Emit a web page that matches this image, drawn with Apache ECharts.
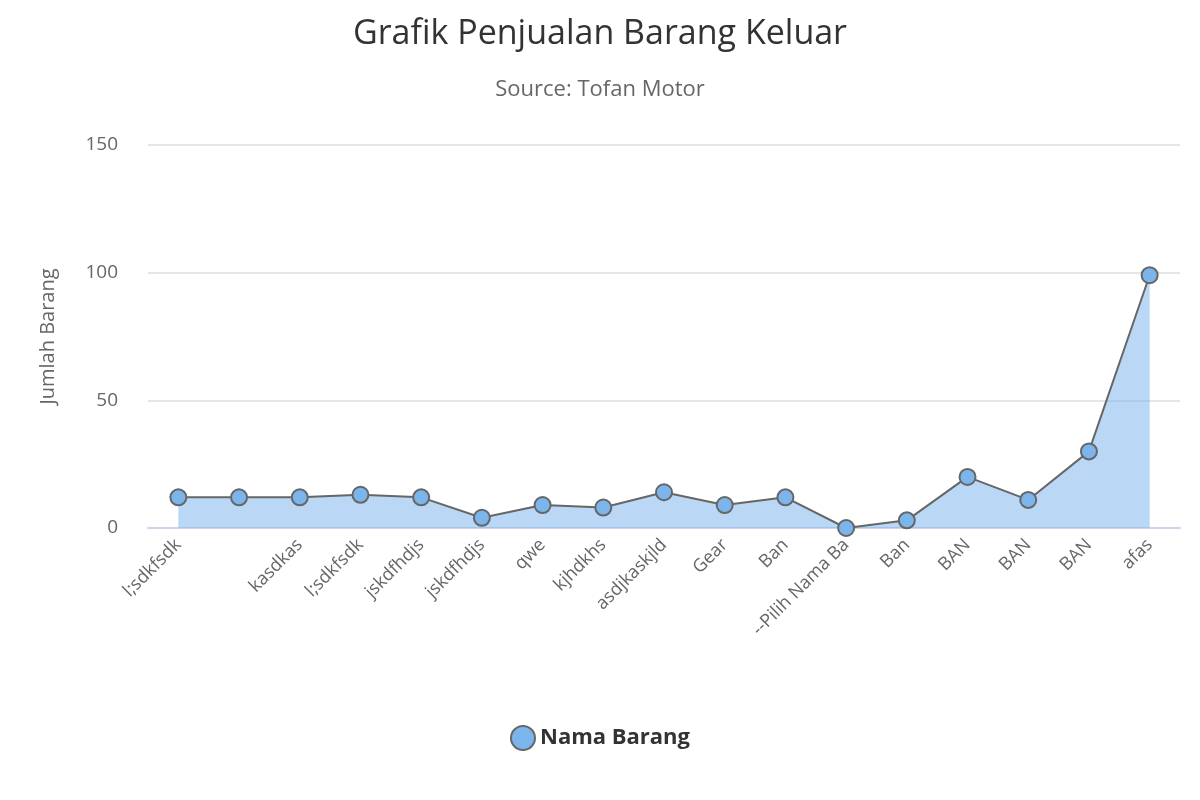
<!DOCTYPE html>
<html><head><meta charset="utf-8">
<script src="https://cdn.jsdelivr.net/npm/echarts@6/dist/echarts.min.js"></script>
<style>html,body{margin:0;padding:0;background:#fff}#c{width:1200px;height:800px}</style>
</head><body><div id="c"></div>
<script>
const categories = ["l;sdkfsdk","","kasdkas","l;sdkfsdk","jskdfhdjs","jskdfhdjs","qwe","kjhdkhs","asdjkaskjld","Gear","Ban","--Pilih Nama Ba","Ban","BAN","BAN","BAN","afas"];
const values = [12,12,12,13,12,4,9,8,14,9,12,0,3,20,11,30,99];
const yTicks = [0,50,100,150];
const font = "'Open Sans', 'DejaVu Sans', sans-serif";
const chart = echarts.init(document.getElementById('c'));
chart.setOption({
  animation:false,
  title:{text:'Grafik Penjualan Barang Keluar',subtext:'Source: Tofan Motor',left:'center',top:12,itemGap:28,
    textStyle:{fontFamily:font,fontSize:34,fontWeight:'normal',color:'#333'},
    subtextStyle:{fontFamily:font,fontSize:22,color:'#666'}},
  legend:{bottom:44,left:'center',icon:'circle',itemWidth:24,itemHeight:24,
    textStyle:{fontFamily:font,fontSize:22,fontWeight:'bold',color:'#333'}},
  grid:{left:148,right:20,top:145,bottom:272},
  xAxis:{type:'category',data:categories,boundaryGap:true,
    axisLine:{lineStyle:{color:'#ccd6eb',width:2}},
    axisTick:{alignWithLabel:true,length:16,lineStyle:{color:'#ccd6eb',width:2}},
    axisLabel:{interval:0,rotate:45,fontFamily:font,fontSize:18,color:'#666',margin:14}},
  yAxis:{type:'value',min:0,max:150,interval:50,name:'Jumlah Barang',nameLocation:'middle',nameGap:90,
    nameTextStyle:{fontFamily:font,fontSize:20,color:'#666'},
    axisLabel:{fontFamily:font,fontSize:19,color:'#666',margin:30,formatter:v=>yTicks.includes(v)?String(v):''},
    splitLine:{lineStyle:{color:'#e6e6e6',width:2}},axisLine:{show:false},axisTick:{show:false}},
  series:[{name:'Nama Barang',type:'line',data:values,symbol:'circle',symbolSize:16,
    itemStyle:{color:'#7cb5ec',borderColor:'#666',borderWidth:2},
    lineStyle:{color:'#666',width:2},
    areaStyle:{color:'rgba(124,181,236,0.75)'}}]
});
</script></body></html>
